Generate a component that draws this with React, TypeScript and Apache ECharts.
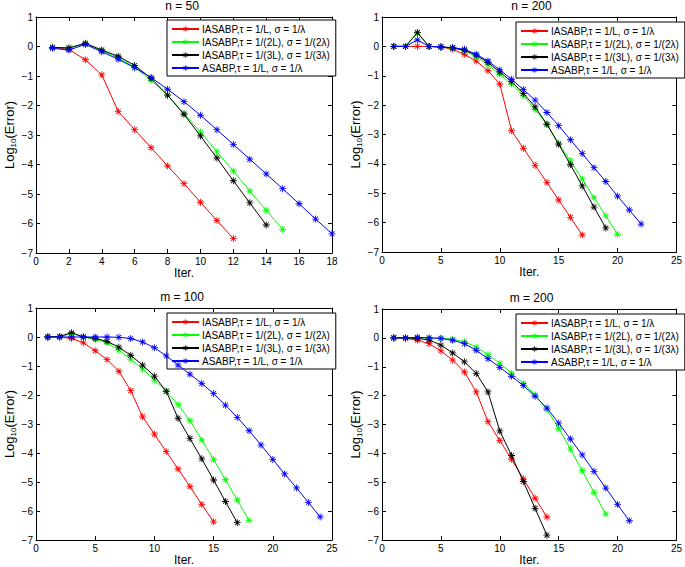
import React, { useEffect, useRef } from "react";
import * as echarts from "echarts";

// ---- data (log10 error per iteration, iteration = index + 1) ----
const titles = ["n = 50", "n = 200", "m = 100", "m = 200"];
const seriesNames = [
  "IASABP,\u03c4 = 1/L, \u03c3 = 1/\u03bb",
  "IASABP,\u03c4 = 1/(2L), \u03c3 = 1/(2\u03bb)",
  "IASABP,\u03c4 = 1/(3L), \u03c3 = 1/(3\u03bb)",
  "ASABP,\u03c4 = 1/L, \u03c3 = 1/\u03bb",
];
const seriesColors = ["#ff0000", "#00ff00", "#000000", "#0000ff"];

const n50Red = [-0.03, -0.1, -0.45, -0.96, -2.2, -2.82, -3.43, -4.05, -4.65, -5.28, -5.9, -6.51];
const n50Green = [-0.03, -0.05, 0.1, -0.14, -0.38, -0.7, -1.15, -1.65, -2.27, -2.9, -3.57, -4.22, -4.9, -5.55, -6.2];
const n50Black = [-0.03, -0.05, 0.11, -0.12, -0.33, -0.64, -1.08, -1.65, -2.3, -3.03, -3.78, -4.55, -5.3, -6.05];
const n50Blue = [-0.06, -0.12, 0.07, -0.18, -0.43, -0.72, -1.05, -1.45, -1.87, -2.33, -2.82, -3.32, -3.82, -4.32, -4.82, -5.33, -5.85, -6.35];

const n200Red = [0, 0, 0, 0, -0.02, -0.1, -0.27, -0.5, -0.83, -1.28, -2.87, -3.47, -4.05, -4.63, -5.23, -5.82, -6.42];
const n200Green = [0, 0, 0.45, 0, -0.02, -0.06, -0.15, -0.35, -0.63, -0.95, -1.28, -1.68, -2.15, -2.65, -3.3, -3.9, -4.52, -5.15, -5.77, -6.4];
const n200Black = [0, 0, 0.47, 0, -0.02, -0.05, -0.13, -0.3, -0.55, -0.87, -1.2, -1.6, -2.06, -2.65, -3.33, -4.03, -4.75, -5.47, -6.18];
const n200Blue = [0, 0, 0.22, 0, -0.02, -0.04, -0.1, -0.27, -0.5, -0.8, -1.12, -1.47, -1.83, -2.25, -2.7, -3.18, -3.65, -4.13, -4.6, -5.1, -5.57, -6.05];

const m100Red = [0, 0, -0.05, -0.2, -0.47, -0.78, -1.18, -1.85, -2.75, -3.35, -3.95, -4.55, -5.15, -5.77, -6.37];
const m100Green = [0, 0, 0.12, 0, -0.08, -0.2, -0.45, -0.77, -1.1, -1.48, -1.87, -2.33, -2.88, -3.55, -4.22, -4.92, -5.62, -6.32];
const m100Black = [0, 0.02, 0.15, 0, -0.05, -0.15, -0.35, -0.63, -0.97, -1.35, -1.87, -2.8, -3.5, -4.2, -4.93, -5.67, -6.4];
const m100Blue = [0, 0, 0, 0, 0, 0, -0.01, -0.05, -0.17, -0.37, -0.65, -0.97, -1.28, -1.6, -1.95, -2.35, -2.77, -3.23, -3.72, -4.22, -4.72, -5.2, -5.7, -6.2];

const m200Red = [0, -0.02, -0.08, -0.2, -0.45, -0.77, -1.18, -1.87, -2.9, -3.55, -4.2, -4.88, -5.55, -6.2];
const m200Green = [0, 0, 0, 0, 0, -0.05, -0.13, -0.32, -0.58, -0.88, -1.22, -1.58, -1.98, -2.48, -3.13, -3.85, -4.6, -5.35, -6.1];
const m200Black = [0, 0, -0.02, -0.07, -0.25, -0.52, -0.83, -1.23, -1.87, -3.22, -4.07, -4.97, -5.9, -6.83];
const m200Blue = [0, 0, 0.02, 0, -0.02, -0.08, -0.2, -0.43, -0.72, -1.02, -1.33, -1.65, -2.02, -2.43, -2.95, -3.5, -4.05, -4.62, -5.2, -5.77, -6.33];

const panelData = [
  [n50Red, n50Green, n50Black, n50Blue],
  [n200Red, n200Green, n200Black, n200Blue],
  [m100Red, m100Green, m100Black, m100Blue],
  [m200Red, m200Green, m200Black, m200Blue],
];
const xMax = [18, 25, 25, 25];
const xInterval = [2, 5, 5, 5];
const yMin = -7;
const yMax = 1;

// ---- layout ----
const grids = [
  { left: 32, top: 17, width: 300, height: 236 },
  { left: 382, top: 17, width: 299, height: 235 },
  { left: 32, top: 308, width: 300, height: 235 },
  { left: 382, top: 309, width: 299, height: 234 },
];
const legendPos = [
  { left: 167, top: 20 },
  { left: 516, top: 22 },
  { left: 167, top: 313 },
  { left: 516, top: 314 },
];
const titleY = [6, 6, 297, 298];

const FONT = "Liberation Sans, Arial, Helvetica, sans-serif";
const STAR =
  "path://M0 4.4H10V5.6H0Z M4.4 0H5.6V10H4.4Z M1.1 1.9L1.9 1.1L8.9 8.1L8.1 8.9Z M8.1 1.1L8.9 1.9L1.9 8.9L1.1 8.1Z";

function buildOption() {
  const xAxis: any[] = [];
  const yAxis: any[] = [];
  const series: any[] = [];
  const graphic: any[] = [];
  const legend: any[] = [];
  grids.forEach((g, i) => {
    const common = {
      gridIndex: i,
      axisLine: { onZero: false, lineStyle: { color: "#000", width: 1 } },
      axisTick: { inside: true, length: 4, lineStyle: { color: "#000", width: 1 } },
      splitLine: { show: false },
    };
    xAxis.push({
      ...common,
      type: "value",
      min: 0,
      max: xMax[i],
      interval: xInterval[i],
      position: "bottom",
      name: "Iter.",
      nameLocation: "middle",
      nameGap: 9,
      nameTextStyle: { color: "#000", fontSize: 12, fontFamily: FONT },
      axisLabel: { color: "#000", fontSize: 10, fontFamily: FONT, margin: 3 },
    });
    xAxis.push({
      ...common,
      type: "value",
      min: 0,
      max: xMax[i],
      interval: xInterval[i],
      position: "top",
      axisLabel: { show: false },
    });
    yAxis.push({
      ...common,
      type: "value",
      min: yMin,
      max: yMax,
      interval: 1,
      position: "left",
      name: "{a|Log}{b|10}{a|(Error)}",
      nameLocation: "middle",
      nameRotate: 90,
      nameGap: 19,
      nameTextStyle: {
        color: "#000",
        fontFamily: FONT,
        rich: {
          a: { fontSize: 13, fontFamily: FONT, color: "#000", lineHeight: 16 },
          b: { fontSize: 8, fontFamily: FONT, color: "#000", lineHeight: 16, padding: [8, 0, 0, 0] },
        },
      },
      axisLabel: {
        color: "#000",
        fontSize: 10,
        fontFamily: FONT,
        margin: 3,
        formatter: (v: number) => String(v).replace("-", "\u2212"),
      },
    });
    yAxis.push({
      ...common,
      type: "value",
      min: yMin,
      max: yMax,
      interval: 1,
      position: "right",
      axisLabel: { show: false },
    });
    graphic.push({
      type: "text",
      x: g.left + g.width / 2,
      y: titleY[i],
      style: {
        text: titles[i],
        fill: "#000",
        fontSize: 12,
        fontFamily: FONT,
        textAlign: "center",
        textVerticalAlign: "middle",
      },
    });
    legend.push({
      orient: "vertical",
      left: legendPos[i].left,
      top: legendPos[i].top,
      data: seriesNames,
      backgroundColor: "#fff",
      borderColor: "#000",
      borderWidth: 1,
      borderRadius: 0,
      padding: [4, 6, 3, 4],
      itemGap: 3,
      itemWidth: 27,
      itemHeight: 7,
      selectedMode: false,
      textStyle: { fontSize: 10, fontFamily: FONT, color: "#000", lineHeight: 10, padding: [0, 0, 0, -2] },
    });
    panelData[i].forEach((arr, k) => {
      series.push({
        type: "line",
        name: seriesNames[k],
        xAxisIndex: i * 2,
        yAxisIndex: i * 2,
        data: arr.map((v, j) => [j + 1, v]),
        symbol: STAR,
        symbolSize: 7,
        showSymbol: true,
        color: seriesColors[k],
        lineStyle: { color: seriesColors[k], width: 1 },
        itemStyle: { color: seriesColors[k] },
        z: 2 + k,
      });
    });
  });
  return {
    animation: false,
    backgroundColor: "#fff",
    grid: grids.map((g) => ({ ...g, containLabel: false })),
    graphic,
    legend,
    xAxis,
    yAxis,
    series,
  };
}

export default function App() {
  const ref = useRef<HTMLDivElement>(null);
  useEffect(() => {
    if (!ref.current) return;
    const chart = echarts.init(ref.current, undefined, { renderer: "svg" });
    chart.setOption(buildOption() as any);
    return () => chart.dispose();
  }, []);
  return (
    <div
      ref={ref}
      style={{ position: "fixed", left: 0, top: 0, width: 685, height: 567, background: "#fff" }}
    />
  );
}
